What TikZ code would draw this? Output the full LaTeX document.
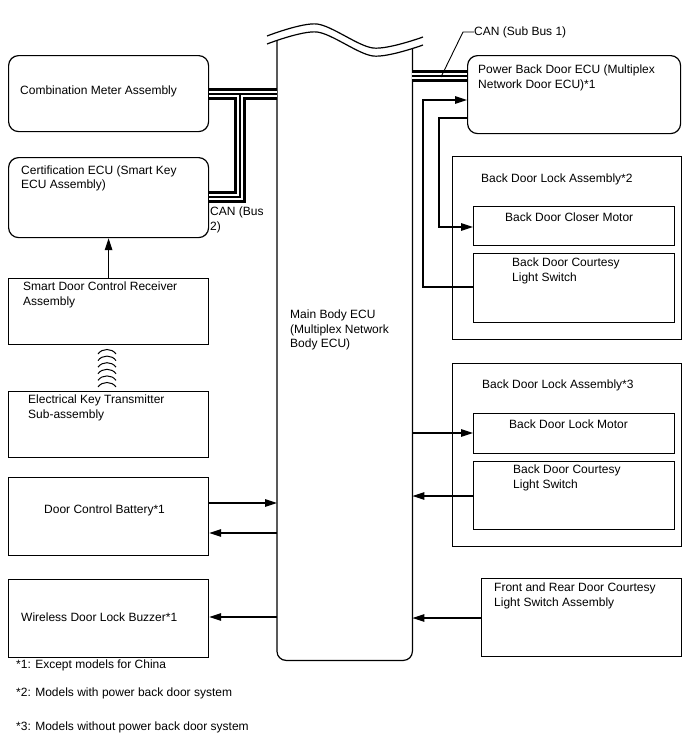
\documentclass[tikz,border=0pt]{standalone}
\usepackage{fontspec}
\setmainfont{Liberation Sans}
\usetikzlibrary{arrows.meta}

\tikzset{
  box/.style={draw, line width=1.2pt, inner sep=0pt, anchor=north west},
  rbox/.style={box, rounded corners=10pt},
  lbl/.style={inner sep=0pt, anchor=west, align=left, font=\fontsize{12}{14.5}\selectfont},
  wire/.style={line width=1.2pt},
  arr/.style={wire, -{Triangle[length=12pt,width=7.5pt]}},
}

\begin{document}
\begin{tikzpicture}[x=1pt, y=-1pt]
  \useasboundingbox (0,0) rectangle (688,755);

  % Left boxes
  \node[rbox, minimum width=200pt, minimum height=76pt] (comb) at (8,55) {};
  \node[rbox, minimum width=200pt, minimum height=80pt] (cert) at (8,157) {};
  \node[box, minimum width=200pt, minimum height=66pt] (smart) at (8,278) {};
  \node[box, minimum width=200pt, minimum height=66pt] (key) at (8,391) {};
  \node[box, minimum width=200pt, minimum height=78pt] (bat) at (8,477) {};
  \node[box, minimum width=200pt, minimum height=78pt] (buz) at (8,579) {};

  \node[lbl] (combt) at (20,91) {Combination Meter Assembly};
  \node[lbl] (certt) at (21,178.5) {Certification ECU (Smart Key\\ECU Assembly)};
  \node[lbl] (smartt) at (23,295) {Smart Door Control Receiver\\Assembly};
  \node[lbl] (keyt) at (28,408) {Electrical Key Transmitter\\Sub-assembly};
  \node[lbl] (batt) at (44,510) {Door Control Battery*1};
  \node[lbl] (buzt) at (21,617) {Wireless Door Lock Buzzer*1};

  % Main body ECU (cut off at the top)
  \node[inner sep=0pt, anchor=north west, minimum width=135pt, minimum height=619pt] (main) at (277,41) {};
  \begin{scope}
    \clip plot[smooth] coordinates {(267,44) (317,32) (373,56) (423,45)} -- (423,700) -- (267,700) -- cycle;
    \draw[line width=1.2pt, rounded corners=9pt] ([yshift=30pt]main.north west) -- (main.south west)
      -- (main.south east) -- ([yshift=30pt]main.north east);
  \end{scope}
  \draw[wire] plot[smooth] coordinates {(267,44) (317,32) (373,56) (423,45)};
  \draw[wire] plot[smooth] coordinates {(267,36) (317,24) (373,48) (423,37)};
  \node[lbl] (maint) at (290,330) {Main Body ECU\\(Multiplex Network\\Body ECU)};

  % Right boxes
  \node[rbox, minimum width=213pt, minimum height=78pt] (pbd) at (467,55) {};
  \node[box, minimum width=229pt, minimum height=183pt] (lock2) at (452,156) {};
  \node[box, minimum width=201pt, minimum height=39pt] (closer) at (473,206) {};
  \node[box, minimum width=201pt, minimum height=69pt] (court2) at (473,253) {};
  \node[box, minimum width=229pt, minimum height=183pt] (lock3) at (452,363) {};
  \node[box, minimum width=201pt, minimum height=40pt] (lockm) at (473,413) {};
  \node[box, minimum width=201pt, minimum height=68pt] (court3) at (473,461) {};
  \node[box, minimum width=200pt, minimum height=78pt] (front) at (481,578) {};

  \node[lbl] (pbdt) at (478,78) {Power Back Door ECU (Multiplex\\Network Door ECU)*1};
  \node[lbl] (lock2t) at (481,179) {Back Door Lock Assembly*2};
  \node[lbl] (closert) at (505,217) {Back Door Closer Motor};
  \node[lbl] (court2t) at (512,271) {Back Door Courtesy\\Light Switch};
  \node[lbl] (lock3t) at (482,385) {Back Door Lock Assembly*3};
  \node[lbl] (lockmt) at (509,424) {Back Door Lock Motor};
  \node[lbl] (court3t) at (513,478) {Back Door Courtesy\\Light Switch};
  \node[lbl] (frontt) at (494,596) {Front and Rear Door Courtesy\\Light Switch Assembly};

  % CAN buses
  \foreach \w/\c in {12pt/black, 6pt/white, 1.2pt/black} {
    \draw[line width=\w, \c] (comb.east |- 0,94) -- (main.west |- 0,94);
    \draw[line width=\w, \c] (240,94) -- (240,197) -- (cert.east |- 0,197);
    \draw[line width=\w, \c] (main.east |- 0,76) -- (pbd.west |- 0,76);
  }
  \node[lbl] (can2) at (210,220) {CAN (Bus\\2)};
  \node[lbl] (can1) at (474,32) {CAN (Sub Bus 1)};
  \draw[line width=0.9pt] (can1.west) -- ++(-11,0) -- (441,77);

  % Wireless link
  \foreach \i in {0,...,5}
    \draw[line width=1pt] (98,{354+6.6*\i}) .. controls (102,{348+6.6*\i}) and (112,{348+6.6*\i}) .. (116,{354+6.6*\i});

  % Signal lines
  \draw[arr] (smart.north) -- (cert.south);
  \draw[arr] (bat.east |- 0,503) -- (main.west |- 0,503);
  \draw[arr] (main.west |- 0,533) -- (bat.east |- 0,533);
  \draw[arr] (main.west |- 0,617) -- (buz.east |- 0,617);
  \draw[arr] (court2.west |- 0,287) -- (423,287) -- (423,100) -- (pbd.west |- 0,100);
  \draw[arr] (pbd.west |- 0,118) -- (439,118) -- (439,227) -- (closer.west |- 0,227);
  \draw[arr] (main.east |- 0,433) -- (lockm.west |- 0,433);
  \draw[arr] (court3.west |- 0,496) -- (main.east |- 0,496);
  \draw[arr] (front.west |- 0,618) -- (main.east |- 0,618);

  % Notes
  \node[lbl] (note1) at (16,665) {*1: Except models for China};
  \node[lbl] (note2) at (16,693) {*2: Models with power back door system};
  \node[lbl] (note3) at (16,727) {*3: Models without power back door system};

\end{tikzpicture}
\end{document}
